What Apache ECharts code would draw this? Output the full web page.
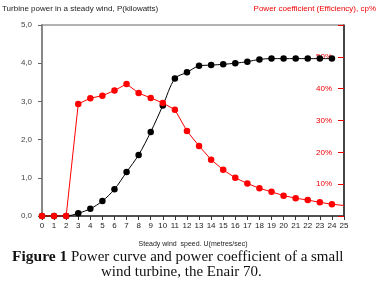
<!DOCTYPE html>
<html>
<head>
<meta charset="utf-8">
<script src="https://cdn.jsdelivr.net/npm/echarts@6/dist/echarts.min.js"></script>
<style>
  html, body { margin: 0; padding: 0; background: #fff; }
  #chart { width: 380px; height: 284px; }
</style>
</head>
<body>
<div id="chart"></div>
<script>
// wind speed, m/s
var windSpeed = [0, 1, 2, 3, 4, 5, 6, 7, 8, 9, 10, 11, 12, 13, 14, 15, 16, 17, 18, 19, 20, 21, 22, 23, 24];
// turbine power, kW
var powerKw = [0, 0, 0, 0.07, 0.19, 0.39, 0.70, 1.15, 1.60, 2.20, 2.89, 3.60, 3.76, 3.93, 3.95, 3.97, 4.00, 4.04, 4.10, 4.12, 4.12, 4.12, 4.12, 4.12, 4.12];
// power coefficient, %
var cpPct = [0, 0, 0, 35.2, 37.0, 37.8, 39.4, 41.5, 38.6, 37.1, 35.5, 33.4, 26.7, 22.0, 17.7, 14.5, 12.0, 10.2, 8.7, 7.6, 6.4, 5.6, 5.0, 4.3, 3.7];
// end of the cp line at the right edge (no marker)
var cpEnd = [25, 3.3];

var myChart = echarts.init(document.getElementById('chart'));

var powerData = [];
for (var i = 0; i < windSpeed.length; i++) {
    powerData.push([windSpeed[i], powerKw[i]]);
}
var cpData = [];
for (var j = 0; j < windSpeed.length; j++) {
    cpData.push([windSpeed[j], cpPct[j]]);
}
cpData.push({ value: cpEnd, symbol: 'none' });

var option = {
    animation: false,
    grid: {
        left: 42,
        right: 36,
        top: 25,
        bottom: 68,
        show: true,
        borderColor: '#666',
        borderWidth: 1
    },
    xAxis: {
        type: 'value',
        min: 0,
        max: 25,
        interval: 1,
        name: 'Steady wind  speed. U(metres/sec)',
        nameLocation: 'middle',
        nameGap: 25,
        nameTextStyle: { fontFamily: 'Liberation Sans', fontSize: 7, color: '#222' },
        axisLine: { lineStyle: { color: '#333', width: 1.5 } },
        axisTick: { length: 4, lineStyle: { color: '#333' } },
        axisLabel: { fontFamily: 'Liberation Sans', fontSize: 8, color: '#222', margin: 6 },
        splitLine: { show: false }
    },
    yAxis: [{
        type: 'value',
        min: 0,
        max: 5,
        interval: 1,
        position: 'left',
        axisLine: { show: true, lineStyle: { color: '#888', width: 2 } },
        axisTick: { show: true, length: 4, lineStyle: { color: '#666' } },
        axisLabel: {
            fontFamily: 'Liberation Sans', fontSize: 8, color: '#444', margin: 10,
            formatter: function (v) { return v.toFixed(1).replace('.', ','); }
        },
        splitLine: { show: false }
    }, {
        type: 'value',
        min: 0,
        max: 60,
        interval: 10,
        position: 'right',
        axisLine: { show: true, lineStyle: { color: '#222', width: 1.5 } },
        axisTick: { show: true, inside: true, length: 6, lineStyle: { color: '#e00' } },
        axisLabel: {
            inside: true, fontFamily: 'Liberation Sans', fontSize: 8, color: '#e00', margin: 12,
            formatter: function (v) { return (v === 0 || v === 60) ? '' : v + '%'; }
        },
        splitLine: { show: false }
    }],
    graphic: [{
        type: 'text', left: 2, top: 5,
        style: { text: 'Turbine power in a steady wind, P(kilowatts)', fontFamily: 'Liberation Sans', fontSize: 8, fill: '#222' }
    }, {
        type: 'text', right: 4, top: 5,
        style: { text: 'Power coefficient (Efficiency), cp%', fontFamily: 'Liberation Sans', fontSize: 8, fill: '#e00' }
    }, {
        type: 'text', left: 12, top: 249,
        style: {
            text: '{b|Figure 1} Power curve and power coefficient of a small',
            fontFamily: 'Liberation Serif', fontSize: 15, fill: '#111',
            rich: { b: { fontFamily: 'Liberation Serif', fontSize: 15.5, fontWeight: 'bold', fill: '#111' } }
        }
    }, {
        type: 'text', left: 101, top: 265,
        style: { text: 'wind turbine, the Enair 70.', fontFamily: 'Liberation Serif', fontSize: 15, fill: '#111' }
    }],
    series: [{
        name: 'power',
        type: 'line',
        yAxisIndex: 0,
        smooth: 0.3,
        symbol: 'circle',
        symbolSize: 6.5,
        itemStyle: { color: '#000' },
        lineStyle: { color: '#000', width: 1 },
        data: powerData,
        z: 2
    }, {
        name: 'cp',
        type: 'line',
        yAxisIndex: 1,
        symbol: 'circle',
        symbolSize: 6.5,
        itemStyle: { color: '#f00' },
        lineStyle: { color: '#f00', width: 1 },
        data: cpData,
        z: 3
    }]
};

myChart.setOption(option);
</script>
</body>
</html>
